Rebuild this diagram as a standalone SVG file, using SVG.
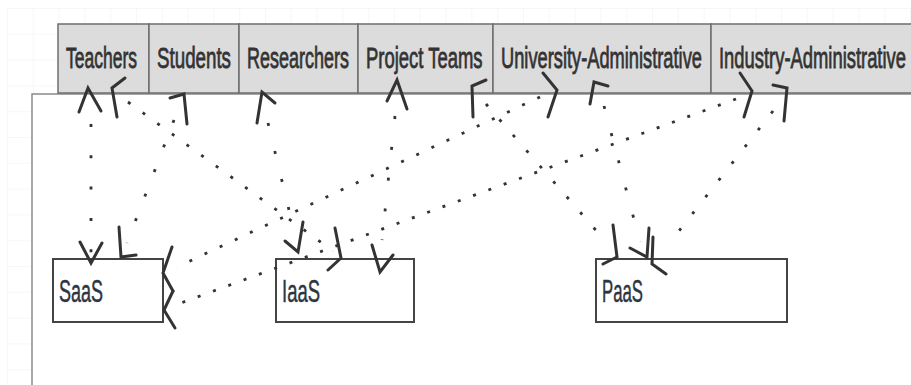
<svg xmlns="http://www.w3.org/2000/svg" width="911" height="385" viewBox="0 0 911 385">
<style>
.hdr{fill:#dcdcdc;stroke:#6e6e6e;stroke-width:1.5}
.htxt{font-family:"Liberation Sans",Arial,sans-serif;font-size:30px;fill:#333;stroke:#333;stroke-width:0.8}
.box{fill:#fff;stroke:#444;stroke-width:2}
.ntxt{font-family:"Liberation Sans",Arial,sans-serif;font-size:31px;fill:#2d3540;stroke:#2d3540;stroke-width:0.5}
.dot{fill:none;stroke:#333;stroke-width:2.8}
.ah{fill:none;stroke:#333;stroke-width:3;stroke-linecap:round;stroke-linejoin:miter}
</style>
<defs>
<pattern id="grid" x="7" y="8" width="25.8" height="25.8" patternUnits="userSpaceOnUse">
<path d="M0,0 H25.8 M0,0 V25.8" fill="none" stroke="#f0f0f0" stroke-width="1"/>
</pattern>
</defs>
<rect x="0" y="0" width="911" height="385" fill="#fff"/>
<rect x="7" y="8" width="904" height="377" fill="url(#grid)"/>
<g id="canvas">
<rect x="32" y="94" width="890" height="300" fill="#fff"/>
<path d="M32,385 V94 H911" fill="none" stroke="#8a8a8a" stroke-width="1.5"/>
</g>
<g id="header">
<g id="teachers"><rect class="hdr" x="58" y="24" width="91" height="69"/><text class="htxt" transform="translate(66,68) scale(0.584,1)">Teachers</text></g>
<g id="students"><rect class="hdr" x="149" y="24" width="90" height="69"/><text class="htxt" transform="translate(157,68) scale(0.625,1)">Students</text></g>
<g id="researchers"><rect class="hdr" x="239" y="24" width="119" height="69"/><text class="htxt" transform="translate(247,68) scale(0.6,1)">Researchers</text></g>
<g id="project-teams"><rect class="hdr" x="358" y="24" width="135" height="69"/><text class="htxt" transform="translate(366,68) scale(0.615,1)">Project Teams</text></g>
<g id="university-admin"><rect class="hdr" x="493" y="24" width="218" height="69"/><text class="htxt" transform="translate(501,68) scale(0.609,1)">University-Administrative</text></g>
<g id="industry-admin"><rect class="hdr" x="711" y="24" width="210" height="69"/><text class="htxt" transform="translate(719,68) scale(0.613,1)">Industry-Administrative</text></g>
</g>
<g id="saas"><rect class="box" x="53" y="259" width="110" height="63"/><text class="ntxt" transform="translate(59,302) scale(0.58,1)">SaaS</text></g>
<g id="iaas"><rect class="box" x="276" y="259" width="138" height="63"/><text class="ntxt" transform="translate(282,302) scale(0.596,1)">IaaS</text></g>
<g id="paas"><rect class="box" x="596" y="259" width="191" height="63"/><text class="ntxt" transform="translate(602,302) scale(0.54,1)">PaaS</text></g>
<g id="connectors">
<g id="c-teachers-saas"><path class="dot" d="M91,124 L91,254" stroke-dasharray="3 28.3"/><polyline class="ah" points="79,112 88,88 101,111"/><polyline class="ah" points="80,242 91,263 102,243"/></g>
<g id="c-teachers-iaas"><path class="dot" d="M128,102 L333,251" stroke-dasharray="3 15.1"/><polyline class="ah" points="117,117 112,88 125,78"/><polyline class="ah" points="335,228 341,258 328,270"/></g>
<g id="c-students-saas"><path class="dot" d="M174,120 L127,243" stroke-dasharray="3 23.3"/><polyline class="ah" points="170,98 184,94 187,124"/><polyline class="ah" points="119,227 121,257 136,255"/></g>
<g id="c-researchers-iaas"><path class="dot" d="M268,123 L295,235" stroke-dasharray="3 25.8"/><polyline class="ah" points="257,123 262,92 275,103"/><polyline class="ah" points="285,241 298,252 303,222"/></g>
<g id="c-project-iaas"><path class="dot" d="M395,116 L382,240" stroke-dasharray="3 28"/><polyline class="ah" points="387,101 397,80 407,109"/><polyline class="ah" points="372,245 380,272 393,255"/></g>
<g id="c-project-paas"><path class="dot" d="M486,104 L607,243" stroke-dasharray="3 17.5"/><polyline class="ah" points="473,117 472,86 486,80"/><polyline class="ah" points="613,225 617,257 603,264"/></g>
<g id="c-university-saas"><path class="dot" d="M540,97 L177,267" stroke-dasharray="3 13.7"/><polyline class="ah" points="543,73 557,90 548,117"/><polyline class="ah" points="172,247 163,273 173,291"/></g>
<g id="c-university-paas"><path class="dot" d="M604,106 L640,242" stroke-dasharray="3 25.1"/><polyline class="ah" points="590,104 594,82 608,86"/><polyline class="ah" points="630,248 647,257 649,228"/></g>
<g id="c-industry-saas"><path class="dot" d="M736,99 L170,307" stroke-dasharray="3 13.3"/><polyline class="ah" points="740,73 752,91 744,117"/><polyline class="ah" points="173,291 164,310 175,328"/></g>
<g id="c-industry-paas"><path class="dot" d="M773,111 L668,245" stroke-dasharray="3 18.3"/><polyline class="ah" points="773,85 787,88 784,121"/><polyline class="ah" points="653,237 652,264 666,274"/></g>
</g>
</svg>
